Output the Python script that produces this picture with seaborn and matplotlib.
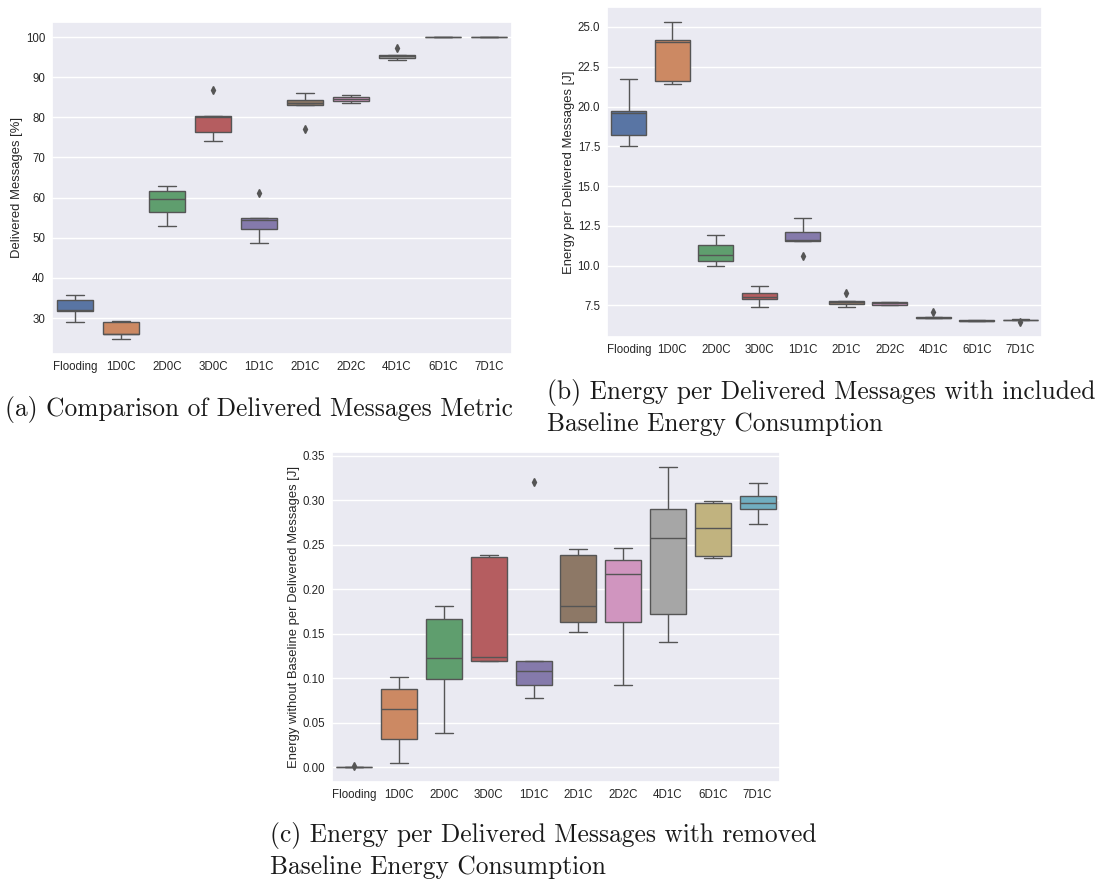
import numpy as np
import pandas as pd
import matplotlib
matplotlib.use("Agg")
import matplotlib.pyplot as plt
import seaborn as sns

# Routing configurations on the x axis
configs = ["Flooding", "1D0C", "2D0C", "3D0C", "1D1C", "2D1C", "2D2C", "4D1C", "6D1C", "7D1C"]

# Delivered messages [%], five runs per configuration
delivered = {
    "Flooding": [28.9, 31.8, 31.9, 34.4, 35.7],
    "1D0C": [24.8, 25.9, 26.0, 29.1, 29.3],
    "2D0C": [53.0, 56.3, 59.7, 61.7, 62.8],
    "3D0C": [74.1, 76.4, 80.2, 80.4, 86.8],
    "1D1C": [48.7, 52.2, 54.5, 55.0, 61.2],
    "2D1C": [77.2, 83.1, 83.6, 84.3, 86.1],
    "2D2C": [83.5, 84.0, 84.6, 85.0, 85.6],
    "4D1C": [94.2, 94.8, 95.2, 95.6, 97.3],
    "6D1C": [100.0, 100.0, 100.0, 100.0, 100.0],
    "7D1C": [100.0, 100.0, 100.0, 100.0, 100.0],
}

# Energy per delivered message incl. baseline consumption [J]
energy_total = {
    "Flooding": [17.52, 18.20, 19.60, 19.72, 21.72],
    "1D0C": [21.40, 21.61, 24.06, 24.21, 25.31],
    "2D0C": [10.01, 10.30, 10.70, 11.28, 11.90],
    "3D0C": [7.39, 7.89, 8.00, 8.31, 8.72],
    "1D1C": [10.60, 11.52, 11.62, 12.12, 12.98],
    "2D1C": [7.39, 7.60, 7.70, 7.81, 8.31],
    "2D2C": [7.50, 7.51, 7.64, 7.72, 7.74],
    "4D1C": [6.68, 6.70, 6.74, 6.80, 7.06],
    "6D1C": [6.50, 6.51, 6.55, 6.60, 6.61],
    "7D1C": [6.46, 6.59, 6.60, 6.61, 6.62],
}

# Energy per delivered message without baseline consumption [J]
energy_net = {
    "Flooding": [0.0, 0.0, 0.0, 0.0, 0.0008],
    "1D0C": [0.0045, 0.0316, 0.065, 0.088, 0.101],
    "2D0C": [0.0386, 0.0992, 0.1222, 0.1665, 0.1806],
    "3D0C": [0.1189, 0.1193, 0.1237, 0.2367, 0.2382],
    "1D1C": [0.0773, 0.0925, 0.1085, 0.1193, 0.3207],
    "2D1C": [0.1523, 0.1631, 0.1813, 0.2382, 0.2449],
    "2D2C": [0.0921, 0.1635, 0.217, 0.233, 0.246],
    "4D1C": [0.1404, 0.1717, 0.2571, 0.2906, 0.3374],
    "6D1C": [0.2352, 0.2370, 0.269, 0.2965, 0.2987],
    "7D1C": [0.2731, 0.2898, 0.2969, 0.305, 0.3195],
}

ylabels = [
    "Delivered Messages [%]",
    "Energy per Delivered Messages [J]",
    "Energy without Baseline per Delivered Messages [J]",
]
captions = [
    ["(a) Comparison of Delivered Messages Metric"],
    ["(b) Energy per Delivered Messages with included", "Baseline Energy Consumption"],
    ["(c) Energy per Delivered Messages with removed", "Baseline Energy Consumption"],
]


def to_long(d):
    rows = [(c, v) for c in configs for v in d[c]]
    return pd.DataFrame(rows, columns=["config", "value"])


sns.set_theme(style="darkgrid")
plt.rcParams["font.family"] = ["Liberation Sans", "DejaVu Sans"]

# "deep" palette with a lighter grey for the eighth configuration
palette = sns.color_palette("deep", 10)
palette[7] = "#a6a6a6"

fig = plt.figure(figsize=(11.07, 8.82), dpi=100)
W, H = 1107, 882
boxes_px = [
    (52, 22, 512, 354),
    (607, 7, 1042, 337),
    (332, 452, 780, 782),
]
axes = []
for (l, t, r, b) in boxes_px:
    axes.append(fig.add_axes([l / W, 1 - b / H, (r - l) / W, (b - t) / H]))

line_col = "#555555"
datasets = [delivered, energy_total, energy_net]
for ax, data, ylab in zip(axes, datasets, ylabels):
    df = to_long(data)
    sns.boxplot(
        data=df, x="config", y="value", hue="config", order=configs,
        hue_order=configs, palette=palette, saturation=0.75, legend=False,
        width=0.8, linecolor=line_col, linewidth=1.0, ax=ax,
        flierprops=dict(marker="d", markerfacecolor=line_col,
                        markeredgecolor=line_col, markersize=4),
    )
    ax.set_xlabel("")
    ax.set_ylabel(ylab, fontsize=9.4, labelpad=2, color="#262626")
    ax.tick_params(labelsize=8.3, length=0, pad=5, labelcolor="#262626")

axes[1].set_yticks([7.5, 10.0, 12.5, 15.0, 17.5, 20.0, 22.5, 25.0])
axes[1].set_yticklabels(["7.5", "10.0", "12.5", "15.0", "17.5", "20.0", "22.5", "25.0"])
axes[2].set_yticks(np.arange(0, 0.36, 0.05))
axes[2].set_yticklabels([f"{v:.2f}" for v in np.arange(0, 0.36, 0.05)])

cap_kw = dict(fontfamily="cmr10", fontsize=18.3, color="#1a1a1a", ha="left",
              va="baseline")
cap_pos = [
    (5, [416]),
    (547, [399, 431]),
    (270, [842, 874]),
]
for lines, (x, ys) in zip(captions, cap_pos):
    for line, y in zip(lines, ys):
        fig.text(x / W, 1 - y / H, line, **cap_kw)

fig.savefig("out.png", dpi=100)
